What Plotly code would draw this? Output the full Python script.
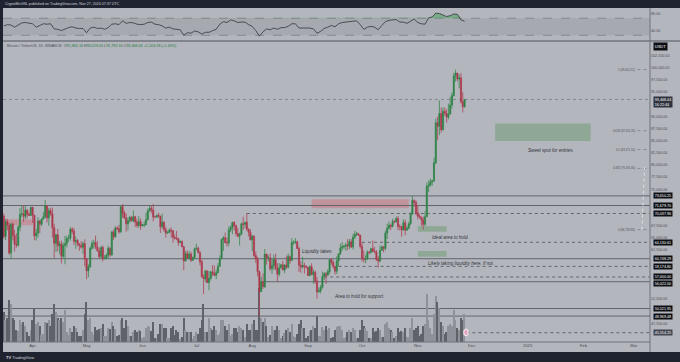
import plotly.graph_objects as go
import pandas as pd

# ---------------- DATA (BTC/USDT, 1D, Binance) ----------------
start_date = "2024-03-16"
first_open = 69499.85

closes_mar = [65300, 68393, 67609, 61937, 67840, 65501, 63797, 63512, 67211, 69880, 69988, 69455, 70744, 69892, 69645, 71333]
highs_mar = [70043, 68920, 68957, 68106, 68100, 68240, 66650, 65999, 67622, 71150, 71561, 71769, 71552, 70913, 70355, 71366]
lows_mar = [64781, 64555, 66598, 61536, 60775, 64529, 62260, 63000, 63294, 66386, 69280, 68359, 68903, 69076, 69601, 69562]

closes_apr = [69702, 65447, 65980, 68508, 67837, 68896, 69360, 71620, 69146, 70631, 70006, 67117, 63924, 65662, 63420,
              63793, 61277, 63470, 63818, 64941, 64942, 66819, 66414, 64290, 64499, 63771, 63462, 63118, 63867, 60672]
highs_apr = [71342, 69708, 66914, 69291, 68725, 69000, 70327, 72797, 71758, 71172, 71256, 71227, 67931, 65840, 66867,
             64365, 64476, 64125, 65450, 65419, 65666, 67233, 67199, 67075, 65297, 64789, 63924, 64370, 64228, 64735]
lows_apr = [68110, 64586, 64493, 65064, 66011, 67438, 68824, 69041, 68210, 67518, 69571, 65086, 60919, 62134, 62274,
            61716, 59768, 60833, 59600, 63090, 64207, 64500, 65824, 63589, 62794, 63322, 62391, 62800, 61765, 59191]

closes_may = [58254, 59123, 62890, 63891, 64031, 63162, 62334, 61187, 63049, 60792, 60793, 61448, 62901, 61552, 66256, 65231,
              67051, 66940, 66278, 71446, 70136, 69122, 67929, 68526, 69265, 68518, 69394, 68296, 67578, 68364, 67491]
highs_may = [60860, 59603, 63320, 64494, 64646, 65500, 64422, 62999, 63418, 63469, 61490, 61818, 63450, 63099, 66444, 66753,
             67451, 67400, 67700, 71515, 71979, 70623, 70041, 69220, 69562, 69500, 70687, 69560, 68900, 69500, 69036]
lows_may = [56552, 56937, 58848, 62599, 62822, 62700, 62261, 60888, 60769, 60187, 60634, 60632, 60749, 61152, 61330, 64602,
            65106, 66601, 65857, 66060, 69162, 68900, 66312, 66622, 68128, 68456, 68250, 67300, 67125, 67118, 66670]

closes_jun = [67707, 67751, 68804, 70567, 71082, 70757, 69342, 69306, 69647, 69512, 67332, 68242, 66756, 66012, 66191,
              66639, 66491, 65140, 64960, 64828, 64096, 64252, 63180, 60277, 61806, 60864, 61706, 60427, 60987, 62772]
highs_jun = [67900, 68409, 70230, 71063, 71758, 71625, 71997, 69563, 69850, 70195, 69560, 69999, 68449, 67294, 66400,
             66974, 67188, 66563, 65727, 66482, 65066, 64525, 64521, 63369, 62343, 62480, 62293, 62189, 61197, 63058]
lows_jun = [67428, 67257, 67589, 68567, 70383, 70119, 68420, 69222, 69160, 69172, 66051, 66902, 66251, 65056, 65870,
            66024, 65095, 64060, 64694, 64559, 63379, 63943, 63178, 58402, 60239, 60712, 60585, 60067, 60383, 60712]

closes_jul = [62900, 62041, 60145, 57042, 56639, 58231, 55857, 56714, 58051, 57725, 57340, 57889, 59204, 60797, 64724, 65043,
              64087, 63987, 66660, 67139, 68165, 67532, 65936, 65372, 65777, 67912, 67813, 68255, 66820, 66201, 64619]
highs_jul = [63861, 63288, 62275, 60498, 57546, 58475, 58392, 58236, 58296, 59470, 59359, 58526, 59850, 61420, 64900, 65388,
             66128, 65133, 67386, 67598, 68366, 68479, 67750, 67102, 66112, 68200, 69399, 68318, 70079, 66983, 66810]
lows_jul = [62497, 61813, 59419, 56771, 53485, 56019, 55743, 54260, 56289, 57157, 57178, 56542, 57756, 59162, 60632, 62373,
            63854, 63238, 63300, 66222, 65777, 66573, 65441, 65111, 63456, 65742, 66676, 67066, 66428, 65323, 64530]

closes_aug = [65357, 61415, 60680, 58116, 53991, 56034, 55027, 61710, 60880, 60945, 58719, 59354, 60610, 58739, 57560, 58875,
              59491, 58427, 59438, 59014, 61156, 60381, 64094, 64178, 64220, 62834, 59416, 59034, 59359, 59123, 58974]
highs_aug = [65659, 65596, 62198, 61117, 58305, 57040, 57717, 62745, 61744, 61470, 61858, 60699, 61578, 61800, 59850, 59848,
             59690, 60284, 59618, 61400, 61820, 61400, 64955, 64500, 64996, 64481, 63213, 60234, 61166, 59944, 59462]
lows_aug = [62302, 61100, 59850, 57122, 49000, 53960, 54558, 54730, 59566, 60242, 58286, 57642, 58392, 58433, 56078, 57098,
            58785, 58408, 57787, 58610, 58783, 59724, 60342, 63594, 63754, 62800, 58034, 57860, 58752, 57700, 58744]

closes_sep = [57301, 59132, 57487, 57971, 56160, 53950, 54156, 54881, 57050, 57648, 57343, 58127, 60571, 60005, 59182,
              58192, 60309, 61759, 62947, 63201, 63348, 63578, 63339, 64262, 63152, 65173, 65769, 65858, 65602, 63327]
highs_sep = [59054, 59400, 59809, 58520, 58327, 56995, 54850, 55317, 58088, 58044, 57991, 58588, 60625, 60656, 60399,
             59210, 61320, 61786, 63850, 64133, 63559, 64000, 64745, 64818, 64817, 65839, 66498, 66260, 66076, 65618]
lows_sep = [57201, 57128, 57415, 55606, 55643, 52550, 53745, 53629, 54591, 56386, 55567, 57324, 57632, 59517, 58696,
            57493, 57610, 59174, 61555, 62350, 62758, 62357, 62538, 62701, 62947, 62670, 64819, 65422, 65432, 62856]

closes_oct = [60805, 60650, 60752, 62086, 62058, 62819, 62224, 62132, 60582, 60275, 62445, 63193, 62851, 66046, 67041, 67612,
              67399, 68418, 68362, 69001, 67368, 67362, 66653, 68161, 66642, 67014, 67930, 69907, 72720, 72339, 70215]
highs_oct = [64130, 62392, 61469, 62487, 62370, 62975, 64478, 63200, 62543, 61321, 63417, 63480, 63285, 66500, 67950, 68424,
             67939, 68969, 68668, 69400, 69500, 67836, 67470, 68850, 68775, 67454, 68333, 70270, 73620, 72961, 72700]
lows_oct = [60164, 60000, 59828, 60459, 61675, 61798, 62128, 61860, 60306, 58946, 60050, 62417, 62043, 62425, 64800, 66750,
            66666, 67177, 68021, 68100, 66571, 66571, 65260, 66480, 65520, 66439, 66792, 67620, 69730, 71436, 69685]

closes_nov = [69482, 69289, 68741, 67811, 69359, 75640, 75905, 76545, 76778, 80474, 88701, 87955, 90584, 87250,
              91032, 90587, 89855, 90465, 92310, 94286, 98317, 98892, 97672, 97901, 93010, 91965.16, 93468.44]
highs_nov = [71632, 69914, 69361, 69433, 70577, 76400, 76849, 77199, 76927, 81500, 89530, 89956, 93265, 91790,
             91850, 91779, 91449, 92594, 94002, 94902, 98974, 99588, 98767, 98584, 98871, 94973, 93529]
lows_nov = [68820, 69000, 67478, 66730, 67458, 69298, 74416, 75560, 75715, 76492, 80216, 85072, 86127, 86668,
            87073, 90056, 88722, 89376, 90400, 91619, 94080, 97122, 97189, 95734, 92600, 90791, 91792]

# volume (thousand BTC)
volume_mar = [75, 55, 60, 105, 95, 60, 55, 30, 28, 55, 45, 50, 40, 25, 15, 30]
volume_apr = [55, 85, 45, 50, 40, 18, 20, 50, 48, 55, 40, 70, 95, 75, 60, 55, 60, 50, 80, 25, 18, 35, 25, 40, 35, 25, 15, 15, 30, 70]
volume_may = [100, 55, 60, 25, 18, 38, 30, 32, 35, 45, 15, 14, 35, 32, 50, 40, 32, 15, 18, 55, 60, 35, 55, 40, 15, 16, 25, 30, 25, 30, 28]
volume_jun = [10, 12, 35, 40, 38, 28, 50, 10, 9, 20, 45, 45, 35, 35, 10, 10, 35, 40, 18, 30, 25, 8, 12, 60, 30, 25, 25, 25, 8, 15]
volume_jul = [25, 20, 35, 55, 95, 25, 25, 60, 35, 30, 40, 30, 18, 22, 55, 55, 40, 30, 45, 15, 20, 35, 35, 25, 40, 35, 30, 12, 45, 30, 30]
volume_aug = [45, 55, 30, 30, 135, 60, 50, 60, 40, 12, 18, 40, 30, 30, 40, 30, 10, 15, 22, 30, 35, 25, 45, 15, 12, 20, 45, 55, 35, 35, 10]
volume_sep = [15, 28, 30, 40, 35, 65, 15, 15, 38, 30, 40, 30, 35, 10, 12, 30, 38, 40, 40, 30, 10, 12, 25, 30, 25, 35, 30, 10, 10, 30]
volume_oct = [55, 40, 35, 28, 10, 10, 35, 25, 28, 35, 30, 12, 12, 45, 50, 35, 30, 25, 10, 14, 35, 25, 28, 25, 35, 12, 12, 35, 60, 30, 35]
volume_nov = [40, 15, 20, 40, 45, 120, 55, 35, 20, 70, 115, 100, 85, 50, 40, 20, 25, 40, 45, 40, 80, 55, 35, 30, 60, 55, 70]

# RSI(14), read every second day from Mar 16
rsi_values = [52, 55, 54, 49, 54, 59, 60, 58, 57, 49, 53, 57, 56, 57, 45, 44, 41, 45, 48, 50, 47, 46, 46,
              36, 47, 49, 46, 47, 44, 48, 56, 57, 55, 64, 58, 60, 59, 56, 55,
              56, 60, 61, 56, 55, 52, 47, 49, 45, 44, 43, 30, 36, 35, 40,
              38, 33, 37, 37, 41, 44, 56, 62, 60, 66, 64, 60, 61, 61, 55,
              51, 41, 28, 38, 45, 43, 47, 44, 48, 48, 51, 57, 57, 47, 47, 46,
              47, 45, 35, 39, 46, 49, 53, 50, 57, 60, 61, 62, 63, 64, 55,
              44, 49, 51, 49, 43, 53, 62, 65, 66, 67, 61, 61, 58, 64, 68,
              60, 57, 56, 71, 73, 82, 81, 77, 74, 76, 80, 79, 66, 63]

price_lines_full = [73650.25, 71679.70, 60748.29, 50521.95, 48969.48]
price_lines_partial = [("2024-07-29", 70037.96, "dot"), ("2024-10-01", 64130.61, "dot"),
                       ("2024-09-18", 59174.80, "dot"), ("2024-09-10", 57000.00, "dot"),
                       ("2024-08-06", 56022.00, "solid"), ("2024-11-28", 45554.25, "dot")]
label_boxes = [73650.25, 71679.70, 70037.96, 64130.61, 60748.29, 59174.80, 57000.00, 56022.00, 50521.95, 48969.48]
last_price = 93468.44
countdown = "16:22:44"

fib_low, fib_high = 66729.98, 99612.22
fib_ratios = [1, 0.618, 0.5, 0.382, 0]

price_ticks = [47500, 52500, 62500, 65000, 67500, 75000, 77500, 80000, 82500, 85000, 87500, 90000,
               95000, 97500, 100000, 102500]
month_ticks = ["2024-04-01", "2024-05-01", "2024-06-01", "2024-07-01", "2024-08-01", "2024-09-01",
               "2024-10-01", "2024-11-01", "2024-12-01", "2025-01-01", "2025-02-01", "2025-03-01"]
month_labels = ["Apr", "May", "Jun", "Jul", "Aug", "Sep", "Oct", "Nov", "Dec", "2025", "Feb", "Mar"]

# ---------------- BUILD ----------------
closes = closes_mar + closes_apr + closes_may + closes_jun + closes_jul + closes_aug + closes_sep + closes_oct + closes_nov
highs = highs_mar + highs_apr + highs_may + highs_jun + highs_jul + highs_aug + highs_sep + highs_oct + highs_nov
lows = lows_mar + lows_apr + lows_may + lows_jun + lows_jul + lows_aug + lows_sep + lows_oct + lows_nov
volumes = volume_mar + volume_apr + volume_may + volume_jun + volume_jul + volume_aug + volume_sep + volume_oct + volume_nov
opens = [first_open] + closes[:-1]
dates = pd.date_range(start_date, periods=len(closes), freq="D")
rsi_dates = dates[::2]

X0, X1 = "2024-03-15 13:26", "2025-03-10"
BG = "#b4b6bd"
DARK = "#1f2330"
TXT = "#4a4d56"
FONT = "Liberation Sans, Arial, sans-serif"
GREEN, RED = "#1c7538", "#a82438"

fig = go.Figure()

vol_colors = ["#8f9198" if c >= o else "#5f6268" for o, c in zip(opens, closes)]
fig.add_trace(go.Bar(x=dates, y=volumes, marker_color=vol_colors, marker_line_width=0,
                     width=0.72 * 86400000, xaxis="x", yaxis="y", hoverinfo="skip", showlegend=False))
fig.add_trace(go.Candlestick(x=dates, open=opens, high=highs, low=lows, close=closes,
                             increasing=dict(line=dict(color="#35864c", width=0.8), fillcolor=GREEN),
                             decreasing=dict(line=dict(color="#ad4053", width=0.8), fillcolor=RED),
                             whiskerwidth=0, xaxis="x", yaxis="y3", hoverinfo="skip", showlegend=False))

# RSI
rsi_top = [max(v, 70) for v in rsi_values]
fig.add_trace(go.Scatter(x=rsi_dates, y=[70] * len(rsi_values), mode="lines", line=dict(width=0),
                         xaxis="x2", yaxis="y2", hoverinfo="skip", showlegend=False))
fig.add_trace(go.Scatter(x=rsi_dates, y=rsi_top, mode="lines", line=dict(width=0), fill="tonexty",
                         fillcolor="rgba(70,160,90,0.55)", xaxis="x2", yaxis="y2", hoverinfo="skip", showlegend=False))
fig.add_trace(go.Scatter(x=rsi_dates, y=rsi_values, mode="lines", line=dict(color="#3f424a", width=0.9),
                         xaxis="x2", yaxis="y2", hoverinfo="skip", showlegend=False))

shapes = []
# light chart background
shapes.append(dict(type="rect", xref="paper", yref="paper", x0=0, x1=677 / 647, y0=-10 / 334, y1=1,
                   fillcolor=BG, line=dict(width=0), layer="below"))
# RSI band and levels
shapes.append(dict(type="rect", xref="x2", yref="y2", x0=X0, x1=X1, y0=30, y1=70,
                   fillcolor="#a7a9b1", line=dict(width=0), layer="below"))
for lv in (30, 70):
    shapes.append(dict(type="line", xref="x2", yref="y2", x0=X0, x1=X1, y0=lv, y1=lv,
                       line=dict(color="#7c7f88", width=0.8, dash="dash"), layer="below"))
# boxes
for x0, x1, y0, y1 in [(X0, "2024-04-01", 67610, 68840), ("2024-09-03", "2024-10-27", 71100, 72950)]:
    shapes.append(dict(type="rect", xref="x", yref="y3", x0=x0, x1=x1, y0=y0, y1=y1,
                       fillcolor="#c1949d", line=dict(width=0), layer="below"))
for x0, x1, y0, y1 in [("2024-12-14", "2025-02-05", 84920, 88550), ("2024-11-01", "2024-11-17", 66290, 67440),
                       ("2024-11-01", "2024-11-17", 61160, 62330)]:
    shapes.append(dict(type="rect", xref="x", yref="y3", x0=x0, x1=x1, y0=y0, y1=y1,
                       fillcolor="#8ea895", line=dict(width=0), layer="below"))
# horizontal levels
for p in price_lines_full:
    shapes.append(dict(type="line", xref="x", yref="y3", x0=X0, x1=X1, y0=p, y1=p,
                       line=dict(color="#62656e", width=1), layer="below"))
for d, p, dash in price_lines_partial:
    shapes.append(dict(type="line", xref="x", yref="y3", x0=d, x1=X1, y0=p, y1=p,
                       line=dict(color="#62656e", width=1, dash=dash), layer="below"))
shapes.append(dict(type="line", xref="x", yref="y3", x0=X0, x1=X1, y0=last_price, y1=last_price,
                   line=dict(color="#777a84", width=0.8, dash="dot"), layer="below"))
# fib levels (narrow, at the right)
fib_levels = [fib_low + r * (fib_high - fib_low) for r in fib_ratios]
for lv in fib_levels:
    shapes.append(dict(type="line", xref="x", yref="y3", x0="2025-03-03", x1="2025-03-09", y0=lv, y1=lv,
                       line=dict(color="#7a7d86", width=0.8, dash="dot")))
shapes.append(dict(type="line", xref="x", yref="y3", x0="2025-03-05 12:00", x1="2025-03-07", y0=fib_low,
                   y1=fib_levels[3] + 300, line=dict(color="#dfe1e6", width=1, dash="dot")))
# marker icon
shapes.append(dict(type="circle", xref="x", yref="y3", x0="2024-11-26 12:00", x1="2024-11-29",
                   y0=44900, y1=46300, fillcolor="#e9a3c4", line=dict(color="#f5f5f7", width=1)))
# frame lines
shapes.append(dict(type="line", xref="paper", yref="paper", x0=0, x1=677 / 647, y0=(342 - 41) / 334,
                   y1=(342 - 41) / 334, line=dict(color="#70737c", width=1.5)))
shapes.append(dict(type="line", xref="paper", yref="paper", x0=1, x1=1, y0=-10 / 334, y1=1,
                   line=dict(color="#70737c", width=1)))
shapes.append(dict(type="line", xref="paper", yref="paper", x0=0, x1=1, y0=0, y1=0,
                   line=dict(color="#70737c", width=1)))

ann = []
small = dict(family=FONT, size=2.8, color=TXT)
for txt, d, p in [("Sweet spot for entries.", "2025-01-14", 83050), ("Ideal area to hold.", "2024-11-19", 65140),
                  ("Likely taking liquidity here, if not.", "2024-11-25", 59870),
                  ("Liquidity taken.", "2024-09-06", 62330), ("Area to hold for support.", "2024-09-29 12:00", 52950)]:
    ann.append(dict(text="<i>" + txt + "</i>", x=d, y=p, xref="x", yref="y3", showarrow=False,
                    font=dict(family=FONT, size=4.6, color="#2f3239"), xanchor="center", yanchor="middle"))
for r, lv in zip(fib_ratios, fib_levels):
    ann.append(dict(text=f"{r} ({lv:,.2f})", x=(637 - 3) / 647, y=lv, xref="paper", yref="y3", showarrow=False,
                    font=small, xanchor="right", yanchor="middle"))
for i, p in enumerate(label_boxes):
    ys = -2 if p == 56022.00 else 0
    ann.append(dict(text=f"{p:,.2f}", x=1.004, y=p, xref="paper", yref="y3", showarrow=False, yshift=ys,
                    font=dict(family=FONT, size=3.7, color="#ffffff"), bgcolor="#0c0e14",
                    borderpad=0.7, xanchor="left", yanchor="middle"))
ann.append(dict(text="45,554.25", x=1.004, y=45554.25, xref="paper", yref="y3", showarrow=False,
                font=dict(family=FONT, size=3.7, color="#ffffff"), bgcolor="#434651",
                borderpad=0.7, xanchor="left", yanchor="middle"))
ann.append(dict(text=f"{last_price:,.2f}<br>{countdown}", x=1.004, y=last_price, xref="paper", yref="y3",
                showarrow=False, yshift=3, font=dict(family=FONT, size=3.7, color="#ffffff"), bgcolor="#2e323d",
                borderpad=0.8, xanchor="left", yanchor="top", align="left"))
ann.append(dict(text="USDT", x=1.004, y=(342 - 47) / 334, xref="paper", yref="paper", showarrow=False,
                font=dict(family=FONT, size=4.0, color="#ffffff"), bgcolor="#0c0e14", borderpad=0.8,
                xanchor="left", yanchor="middle"))
g = "#1f7a3c"
hdr = ("Bitcoin / TetherUS, 1D, BINANCE  "
       f"O<span style='color:{g}'>91,965.16</span> H<span style='color:{g}'>93,529.00</span> "
       f"L<span style='color:{g}'>91,792.16</span> C<span style='color:{g}'>93,468.44</span> "
       f"<span style='color:{g}'>+1,503.28 (+1.63%)</span>")
ann.append(dict(text=hdr, x=0.003, y=(342 - 45.5) / 334, xref="paper", yref="paper", showarrow=False,
                font=dict(family=FONT, size=3.7, color=TXT), xanchor="left", yanchor="middle"))
ann.append(dict(text="CryptoMichNL published on TradingView.com, Nov 27, 2024 07:37 UTC", x=0.0,
                y=(342 - 4) / 334, xref="paper", yref="paper", showarrow=False,
                font=dict(family=FONT, size=3.6, color="#d1d4dc"), xanchor="left", yanchor="middle"))
ann.append(dict(text="<b>TV</b> TradingView", x=0.002, y=(342 - 357) / 334, xref="paper", yref="paper",
                showarrow=False, font=dict(family=FONT, size=4.0, color="#d1d4dc"), xanchor="left",
                yanchor="middle"))

fig.update_layout(
    width=680, height=362, margin=dict(l=3, r=30, t=8, b=20),
    paper_bgcolor=DARK, plot_bgcolor=BG, showlegend=False, bargap=0, boxgap=0.12,
    font=dict(family=FONT, size=5, color=TXT),
    xaxis=dict(type="date", range=[X0, X1], tickvals=month_ticks, ticktext=month_labels, showgrid=False,
               zeroline=False, showline=False, ticks="", tickfont=dict(family=FONT, size=4.2, color=TXT),
               rangeslider=dict(visible=False), anchor="y"),
    xaxis2=dict(type="date", range=[X0, X1], matches="x", showticklabels=False, showgrid=False,
                zeroline=False, showline=False, ticks="", anchor="y2"),
    yaxis=dict(domain=[0, 0.898], range=[0, 750], visible=False, fixedrange=True),
    yaxis3=dict(overlaying="y", side="right", anchor="x", range=[43645, 105250], tickvals=price_ticks,
                ticktext=[f"{v:,.2f}" for v in price_ticks], showgrid=False, zeroline=False, ticks="",
                tickfont=dict(family=FONT, size=3.7, color=TXT)),
    yaxis2=dict(domain=[0.904, 1], range=[18.8, 94], side="right", anchor="x2", tickvals=[40, 80],
                ticktext=["40.00", "80.00"], showgrid=False, zeroline=False, ticks="",
                tickfont=dict(family=FONT, size=3.7, color=TXT)),
    shapes=shapes, annotations=ann,
)

fig.write_html("out.html", config={"displayModeBar": False},
               post_script="document.body.style.margin='0';document.body.style.overflow='hidden';")
